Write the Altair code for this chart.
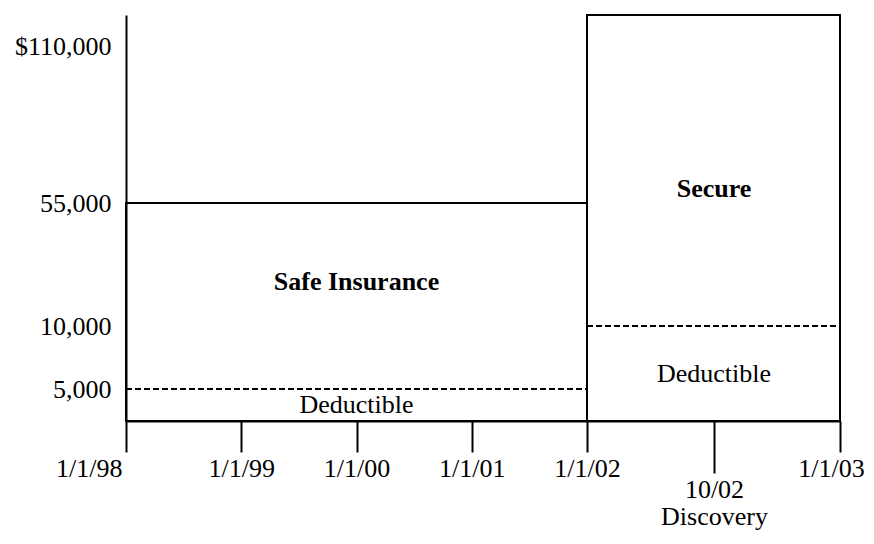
import json
import altair as alt
import pandas as pd

# ---- axis ticks and labels -------------------------------------------------
x_tick_values = [1998, 1999, 2000, 2001, 2002, 2002.75, 2003]
x_tick_labels = ["1/1/98", "1/1/99", "1/1/00", "1/1/01", "1/1/02",
                 ["10/02", "Discovery"], "1/1/03"]
y_tick_values = [5000, 10000, 55000, 110000]
y_tick_labels = ["5,000", "10,000", "55,000", "$110,000"]

# ---- policies ----------------------------------------------------------------
policy_names = ["Safe Insurance", "Secure"]
policy_start = [1998, 2002]
policy_end = [2002, 2003]
policy_limit = [55000, 120000]
policy_deductible = [5000, 10000]

# ---- text annotations (data coordinates) -----------------------------------
note_text = ["Safe Insurance", "Deductible", "Secure", "Deductible"]
note_x = [2000, 2000, 2002.75, 2002.75]
note_y = [26000, 2500, 60000, 6200]
note_bold = [True, False, True, False]

# the drawing is not to scale: piecewise scales
x_breaks = [1998, 2002, 2002.75, 2003]
y_breaks = [0, 5000, 10000, 55000, 110000, 120000]

W, H = 714, 406
x_range = [0, 461, 588, W]
y_range = [H, 374, 311, 188, 31, 0]

FONT = "Liberation Serif"
FS = 26

policies = pd.DataFrame({
    "policy": policy_names,
    "start": policy_start,
    "end": policy_end,
    "limit": policy_limit,
    "deductible": policy_deductible,
    "zero": [0, 0],
})
notes = pd.DataFrame({"text": note_text, "x": note_x, "y": note_y, "bold": note_bold})


def label_expr(values, labels):
    expr = "''"
    for v, l in reversed(list(zip(values, labels))):
        expr = f"datum.value == {v} ? {json.dumps(l)} : ({expr})"
    return expr


x_scale = alt.Scale(domain=x_breaks, range=x_range, nice=False, zero=False)
y_scale = alt.Scale(domain=y_breaks, range=y_range, nice=False, zero=False)

x_axis = alt.Axis(
    values=x_tick_values,
    labelExpr=label_expr(x_tick_values, x_tick_labels),
    title=None, grid=False,
    domainColor="black", domainWidth=2,
    tickColor="black", tickWidth=2,
    tickSize={"condition": {"test": "datum.value == 2002.75", "value": 52}, "value": 31},
    labelPadding=3,
    labelAlign={"condition": {"test": "datum.value == 1998", "value": "right"}, "value": "center"},
    labelOffset={"condition": {"test": "datum.value == 1998 || datum.value == 2003",
                               "value": -4}, "value": 0},
    labelFont=FONT, labelFontSize=FS, labelColor="black",
    labelLineHeight=27, labelFlush=False, labelOverlap=False, labelBound=False,
)
# keep the last label inside the page
x_axis["labelOffset"] = {"condition": [
    {"test": "datum.value == 1998", "value": -4},
    {"test": "datum.value == 2003", "value": -9},
], "value": 0}

y_axis = alt.Axis(
    values=y_tick_values,
    labelExpr=label_expr(y_tick_values, y_tick_labels),
    title=None, grid=False, ticks=False,
    domainColor="black", domainWidth=2,
    labelPadding=15,
    labelFont=FONT, labelFontSize=FS, labelColor="black",
    labelOverlap=False, labelBound=False,
)

boxes = alt.Chart(policies).mark_rect(
    fill="transparent", stroke="black", strokeWidth=2
).encode(
    x=alt.X("start:Q", scale=x_scale, axis=x_axis),
    x2="end:Q",
    y=alt.Y("zero:Q", scale=y_scale, axis=y_axis),
    y2="limit:Q",
)

deductibles = alt.Chart(policies).mark_rule(
    color="black", strokeWidth=2, strokeDash=[6, 3]
).encode(
    x=alt.X("start:Q", scale=x_scale),
    x2="end:Q",
    y=alt.Y("deductible:Q", scale=y_scale),
)

bold_notes = alt.Chart(notes).transform_filter("datum.bold").mark_text(
    font=FONT, fontSize=FS, fontWeight="bold", color="black", baseline="middle"
).encode(
    x=alt.X("x:Q", scale=x_scale),
    y=alt.Y("y:Q", scale=y_scale),
    text="text:N",
)

plain_notes = alt.Chart(notes).transform_filter("!datum.bold").mark_text(
    font=FONT, fontSize=FS, color="black", baseline="middle"
).encode(
    x=alt.X("x:Q", scale=x_scale),
    y=alt.Y("y:Q", scale=y_scale),
    text="text:N",
)

chart = alt.layer(boxes, deductibles, bold_notes, plain_notes).properties(
    width=W, height=H,
    autosize=alt.AutoSizeParams(type="none"),
    padding={"left": 118, "top": 7, "right": 26, "bottom": 109},
    background="white",
).configure_view(stroke=None)

chart.save("out.html", embed_options={"renderer": "svg", "actions": False})
